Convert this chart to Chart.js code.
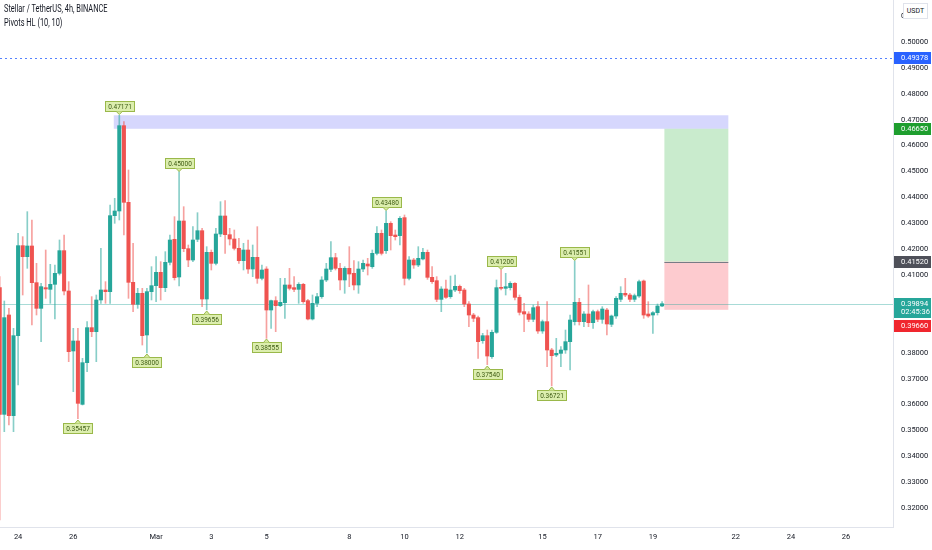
<!DOCTYPE html>
<html>
<head>
<meta charset="utf-8">
<script src="https://cdn.jsdelivr.net/npm/chart.js@4.4.0/dist/chart.umd.min.js"></script>
<style>
    html, body { margin: 0; padding: 0; background: #fff; }
    #wrap { position: relative; width: 932px; height: 550px; overflow: hidden; }
    canvas { display: block; }
    .legend { position: absolute; left: 4px; font-family: "Roboto", "Liberation Sans", sans-serif; font-size: 10px; color: #131722; white-space: nowrap; transform: scaleX(0.74); transform-origin: left top; }
    .unit { position: absolute; left: 903px; top: 3px; width: 23px; height: 14px; line-height: 14px; border: 1px solid #e0e3eb; background: #fff; text-align: center; font-family: "Roboto", sans-serif; font-size: 7px; color: #131722; }
</style>
</head>
<body>
<div id="wrap">
    <canvas id="chart" width="932" height="550"></canvas>
    <div class="legend" style="top:3px;">Stellar / TetherUS, 4h, BINANCE</div>
    <div class="legend" style="top:17px;">Pivots HL (10, 10)</div>
    <div class="unit">USDT</div>
</div>
<script>
// 4h candles, first one Feb 23 08:00 UTC
var candleStart = Date.UTC(2023, 1, 23, 8);
var candleStep = 4 * 3600 * 1000;

var opens = [
    0.40515, 0.35624, 0.39460, 0.35573, 0.38662, 0.42137, 0.41712, 0.42124, 0.40708, 0.39717,
    0.40515, 0.40451, 0.40644, 0.41069, 0.41944, 0.40386, 0.38070, 0.38456, 0.36010, 0.37619,
    0.38971, 0.38816, 0.40039, 0.40425, 0.40361, 0.43295, 0.43475, 0.46770, 0.43810, 0.40721,
    0.39872, 0.40296, 0.38688, 0.40361, 0.40592, 0.41107, 0.40515, 0.41493, 0.42381, 0.40927,
    0.43089, 0.42020, 0.41583, 0.42381, 0.42715, 0.40077, 0.41879, 0.41454, 0.42587, 0.43282,
    0.42561, 0.42394, 0.42033, 0.41557, 0.41969, 0.41235, 0.41686, 0.40875, 0.41235, 0.39652,
    0.40013, 0.39820, 0.39935, 0.40618, 0.40515, 0.40450, 0.40643, 0.40013, 0.39305, 0.39910,
    0.40167, 0.40811, 0.41222, 0.41673, 0.41261, 0.40811, 0.41261, 0.41068, 0.40618, 0.41235,
    0.41428, 0.41325, 0.41840, 0.42613, 0.41943, 0.42999, 0.42548, 0.42523, 0.43218, 0.40875,
    0.41583, 0.41390, 0.41622, 0.41879, 0.40914, 0.40785, 0.40064, 0.40463, 0.40167, 0.40425,
    0.40566, 0.40425, 0.39884, 0.39459, 0.39357, 0.38468, 0.38661, 0.37850, 0.38790, 0.40527,
    0.40489, 0.40515, 0.40682, 0.40141, 0.39588, 0.39498, 0.39292, 0.39781, 0.38841, 0.39202,
    0.38108, 0.37915, 0.37979, 0.38108, 0.38430, 0.39202, 0.39948, 0.39202, 0.39498, 0.39163,
    0.39588, 0.39292, 0.39652, 0.39099, 0.39421, 0.40064, 0.40296, 0.40231, 0.40064, 0.40193,
    0.40772, 0.39498, 0.39459, 0.39549, 0.39807
];
var highs = [
    0.40940, 0.40000, 0.39717, 0.38945, 0.42613, 0.42484, 0.43449, 0.43128, 0.41455, 0.40682,
    0.41969, 0.41416, 0.41390, 0.42356, 0.42549, 0.40747, 0.38945, 0.38945, 0.37787, 0.39202,
    0.40168, 0.40232, 0.42034, 0.40747, 0.43707, 0.43964, 0.47171, 0.46924, 0.45058, 0.42227,
    0.40489, 0.40489, 0.40489, 0.41326, 0.41712, 0.41519, 0.41905, 0.42548, 0.43256, 0.45000,
    0.43642, 0.42162, 0.42870, 0.43410, 0.42806, 0.42098, 0.41969, 0.42806, 0.43835, 0.43874,
    0.42806, 0.42741, 0.42420, 0.42226, 0.42355, 0.42162, 0.42870, 0.41390, 0.41325, 0.40039,
    0.40167, 0.40875, 0.40875, 0.41261, 0.40940, 0.40708, 0.40682, 0.40064, 0.40232, 0.40296,
    0.40939, 0.41454, 0.42291, 0.41840, 0.41454, 0.41325, 0.42098, 0.41558, 0.41519, 0.41583,
    0.41648, 0.41969, 0.42870, 0.42741, 0.43480, 0.43063, 0.42741, 0.43256, 0.43321, 0.41712,
    0.41648, 0.42098, 0.42033, 0.41969, 0.41325, 0.40940, 0.40553, 0.40811, 0.40965, 0.41004,
    0.40618, 0.40489, 0.39974, 0.39524, 0.39421, 0.38752, 0.38880, 0.38880, 0.40811, 0.41200,
    0.41068, 0.40746, 0.40708, 0.40231, 0.39910, 0.39588, 0.39845, 0.39974, 0.39266, 0.39974,
    0.38172, 0.38558, 0.38237, 0.38880, 0.39459, 0.41551, 0.40103, 0.39588, 0.40618, 0.39652,
    0.39652, 0.39781, 0.39717, 0.39459, 0.40167, 0.40553, 0.40875, 0.40296, 0.40270, 0.40811,
    0.40811, 0.39974, 0.39588, 0.39884, 0.39974
];
var lows = [
    0.31545, 0.34955, 0.35213, 0.34955, 0.36757, 0.40232, 0.41262, 0.39074, 0.39460, 0.38430,
    0.40103, 0.39910, 0.39305, 0.41004, 0.40232, 0.37658, 0.36500, 0.35457, 0.35984, 0.37272,
    0.38623, 0.37658, 0.39910, 0.39910, 0.39910, 0.42999, 0.43128, 0.42549, 0.40103, 0.39589,
    0.39717, 0.38301, 0.38000, 0.40039, 0.39974, 0.40039, 0.40361, 0.41390, 0.40811, 0.40579,
    0.41905, 0.41325, 0.41519, 0.42291, 0.39781, 0.39656, 0.41197, 0.41390, 0.42484, 0.41840,
    0.42162, 0.41969, 0.41454, 0.41197, 0.41068, 0.40940, 0.40682, 0.40811, 0.38555, 0.38945,
    0.38816, 0.39781, 0.39331, 0.40425, 0.40360, 0.39910, 0.39910, 0.39266, 0.39266, 0.39781,
    0.40103, 0.40746, 0.41132, 0.41197, 0.40425, 0.40296, 0.40554, 0.40425, 0.40296, 0.41133,
    0.41004, 0.41261, 0.41776, 0.41776, 0.41840, 0.41969, 0.42355, 0.42162, 0.40618, 0.40811,
    0.41261, 0.41325, 0.41583, 0.40836, 0.40682, 0.39974, 0.39588, 0.40103, 0.40103, 0.40360,
    0.40296, 0.39781, 0.39009, 0.39202, 0.37786, 0.38366, 0.37540, 0.37786, 0.38751, 0.40424,
    0.40231, 0.40424, 0.40038, 0.39459, 0.38816, 0.39202, 0.39202, 0.38751, 0.38751, 0.37464,
    0.36721, 0.37850, 0.37464, 0.37979, 0.37336, 0.39073, 0.39073, 0.39009, 0.39009, 0.38944,
    0.39202, 0.39137, 0.38687, 0.39009, 0.39331, 0.39974, 0.40167, 0.39974, 0.39974, 0.40141,
    0.39331, 0.39369, 0.38751, 0.39459, 0.39781
];
var closes = [
    0.35624, 0.39357, 0.35573, 0.38662, 0.42137, 0.41712, 0.42124, 0.40708, 0.39717, 0.40554,
    0.40464, 0.40644, 0.41069, 0.41944, 0.40386, 0.38044, 0.38456, 0.36049, 0.37619, 0.38971,
    0.38816, 0.40039, 0.40425, 0.40361, 0.43295, 0.43475, 0.46770, 0.43810, 0.40721, 0.39872,
    0.40296, 0.38662, 0.40361, 0.40592, 0.41107, 0.40515, 0.41493, 0.42355, 0.40901, 0.43089,
    0.42020, 0.41583, 0.42355, 0.42715, 0.40077, 0.41879, 0.41454, 0.42587, 0.43282, 0.42561,
    0.42394, 0.42033, 0.41557, 0.41969, 0.41235, 0.41686, 0.40875, 0.41197, 0.39652, 0.40013,
    0.39820, 0.39948, 0.40618, 0.40489, 0.40450, 0.40643, 0.39974, 0.39305, 0.39910, 0.40167,
    0.40811, 0.41235, 0.41673, 0.41261, 0.40811, 0.41261, 0.41042, 0.40618, 0.41235, 0.41454,
    0.41351, 0.41840, 0.42613, 0.41840, 0.42999, 0.42523, 0.42484, 0.43192, 0.40875, 0.41583,
    0.41390, 0.41648, 0.41879, 0.40914, 0.40746, 0.40064, 0.40463, 0.40142, 0.40425, 0.40566,
    0.40399, 0.39884, 0.39459, 0.39331, 0.38430, 0.38661, 0.37876, 0.38790, 0.40515, 0.40489,
    0.40553, 0.40682, 0.40141, 0.39562, 0.39498, 0.39292, 0.39742, 0.38841, 0.39202, 0.38108,
    0.37889, 0.37979, 0.38108, 0.38430, 0.39266, 0.39948, 0.39202, 0.39498, 0.39163, 0.39588,
    0.39292, 0.39691, 0.39112, 0.39421, 0.40103, 0.40296, 0.40231, 0.40064, 0.40206, 0.40746,
    0.39459, 0.39421, 0.39549, 0.39807, 0.39894
];

// Pivots HL (10, 10): bar indexes of the marked highs / lows
var pivotHighBars = [26, 39, 84, 109, 125];
var pivotLowBars = [17, 32, 45, 58, 106, 120];

// Drawings: rectangle and long position (entry / target / stop)
var rectTop = 0.47171, rectBottom = 0.46650;
var entryPrice = 0.41520, targetPrice = 0.46650, stopPrice = 0.39660;
var alertPrice = 0.49378;
var lastPrice = 0.39894, countdown = '02:45:36';

var yTicks = [0.32, 0.33, 0.34, 0.35, 0.36, 0.37, 0.38, 0.39, 0.40, 0.41,
              0.42, 0.43, 0.44, 0.45, 0.46, 0.47, 0.48, 0.49, 0.50, 0.51];
var dayTicks = ['2023-02-24', '2023-02-26', '2023-03-01', '2023-03-03', '2023-03-05', '2023-03-08', '2023-03-10',
                '2023-03-12', '2023-03-15', '2023-03-17', '2023-03-19', '2023-03-22', '2023-03-24', '2023-03-26'];
var monthNames = ['Jan', 'Feb', 'Mar', 'Apr', 'May', 'Jun', 'Jul', 'Aug', 'Sep', 'Oct', 'Nov', 'Dec'];

var UP = '#26a69a', DOWN = '#ef5350';
var FONT = '"Roboto", "Liberation Sans", sans-serif';
var axisFont = { family: FONT, size: 7.5 };

function barTime(i) {
    return candleStart + i * candleStep;
}

var wickData = [], bodyData = [], bodyColors = [], wickColors = [];
for (var i = 0; i < opens.length; i++) {
    var up = closes[i] >= opens[i];
    wickData.push({ x: barTime(i), y: [lows[i], highs[i]] });
    bodyData.push({ x: barTime(i), y: [opens[i], closes[i]] });
    bodyColors.push(up ? UP : DOWN);
    wickColors.push(up ? 'rgba(38,166,154,0.55)' : 'rgba(239,83,80,0.55)');
}

var overlays = {
    id: 'overlays',
    beforeDatasetsDraw: function(chart) {
        var ctx = chart.ctx, a = chart.chartArea, x = chart.scales.x, y = chart.scales.y;
        ctx.save();
        ctx.beginPath();
        ctx.rect(a.left, a.top, a.width, a.height);
        ctx.clip();

        function zone(b0, b1, p0, p1, color) {
            var x0 = x.getPixelForValue(barTime(b0)), x1 = x.getPixelForValue(barTime(b1));
            var y0 = y.getPixelForValue(p0), y1 = y.getPixelForValue(p1);
            ctx.fillStyle = color;
            ctx.fillRect(x0, y0, x1 - x0, y1 - y0);
        }
        // rectangle from the top pivot
        zone(24.8, 158.4, rectTop, rectBottom, 'rgba(120,123,250,0.3)');
        // long position
        zone(144.5, 158.4, targetPrice, entryPrice, 'rgba(76,190,90,0.3)');
        zone(144.5, 158.4, entryPrice, stopPrice, 'rgba(247,82,95,0.3)');
        var ye = Math.round(y.getPixelForValue(entryPrice)) + 0.5;
        ctx.strokeStyle = '#787b86';
        ctx.lineWidth = 1;
        ctx.beginPath();
        ctx.moveTo(x.getPixelForValue(barTime(144.5)), ye);
        ctx.lineTo(x.getPixelForValue(barTime(158.4)), ye);
        ctx.stroke();

        // alert line (dotted)
        var ya = Math.round(y.getPixelForValue(alertPrice)) + 0.5;
        ctx.strokeStyle = 'rgba(41,98,255,0.8)';
        ctx.setLineDash([2, 3]);
        ctx.beginPath();
        ctx.moveTo(a.left, ya);
        ctx.lineTo(a.right, ya);
        ctx.stroke();
        ctx.setLineDash([]);

        // last price line
        var yl = Math.round(y.getPixelForValue(lastPrice)) + 0.5;
        ctx.strokeStyle = 'rgba(38,166,154,0.4)';
        ctx.beginPath();
        ctx.moveTo(a.left, yl);
        ctx.lineTo(a.right, yl);
        ctx.stroke();
        ctx.restore();
    },
    afterDatasetsDraw: function(chart) {
        var ctx = chart.ctx, x = chart.scales.x, y = chart.scales.y;
        ctx.save();
        ctx.font = '6.5px ' + FONT;
        ctx.textAlign = 'center';
        ctx.textBaseline = 'middle';

        function pivotLabel(bar, price, isHigh) {
            var px = x.getPixelForValue(barTime(bar));
            var py = y.getPixelForValue(price);
            var text = price.toFixed(5);
            var w = Math.round(ctx.measureText(text).width + 5), h = 10;
            var top = Math.round(isHigh ? py - 4 - h : py + 4);
            var left = Math.round(px - w / 2);
            ctx.fillStyle = 'rgba(214,235,160,0.85)';
            ctx.strokeStyle = '#9ab84a';
            ctx.lineWidth = 1;
            ctx.fillRect(left, top, w, h);
            ctx.strokeRect(left + 0.5, top + 0.5, w, h);
            // arrow
            ctx.beginPath();
            if (isHigh) {
                ctx.moveTo(px - 3, top + h + 0.5);
                ctx.lineTo(px, top + h + 3.5);
                ctx.lineTo(px + 3, top + h + 0.5);
            } else {
                ctx.moveTo(px - 3, top + 0.5);
                ctx.lineTo(px, top - 3);
                ctx.lineTo(px + 3, top + 0.5);
            }
            ctx.fillStyle = '#d6eba0';
            ctx.fill();
            ctx.stroke();
            ctx.fillStyle = '#3d5a12';
            ctx.fillText(text, left + w / 2 + 0.5, top + h / 2 + 1);
        }
        pivotHighBars.forEach(function(b) { pivotLabel(b, highs[b], true); });
        pivotLowBars.forEach(function(b) { pivotLabel(b, lows[b], false); });
        ctx.restore();
    },
    afterDraw: function(chart) {
        var ctx = chart.ctx, a = chart.chartArea, y = chart.scales.y;
        var left = a.right + 1, w = chart.width - left - 1;
        ctx.save();
        ctx.font = '7.5px ' + FONT;
        ctx.textBaseline = 'middle';
        ctx.textAlign = 'left';

        function tag(top, lines, bg) {
            var h = lines.length * 8 + 4;
            top = Math.round(top);
            ctx.fillStyle = bg;
            ctx.fillRect(left, top, w, h);
            ctx.fillStyle = '#fff';
            lines.forEach(function(t, k) {
                ctx.fillText(t, left + 7, top + 6.5 + k * 8);
            });
            return top + h;
        }
        tag(y.getPixelForValue(alertPrice) - 6, [alertPrice.toFixed(5)], '#2962ff');
        tag(y.getPixelForValue(targetPrice) - 6, [targetPrice.toFixed(5)], '#1e9e2e');
        tag(y.getPixelForValue(entryPrice) - 6, [entryPrice.toFixed(5)], '#4e5059');
        var bottom = tag(y.getPixelForValue(lastPrice) - 6, [lastPrice.toFixed(5), countdown], '#26a69a');
        tag(Math.max(y.getPixelForValue(stopPrice) - 6, bottom + 2), [stopPrice.toFixed(5)], '#f0262e');
        ctx.restore();
    }
};

var chart = new Chart(document.getElementById('chart'), {
    type: 'bar',
    data: {
        datasets: [{
            label: 'wicks',
            data: wickData,
            backgroundColor: wickColors,
            barThickness: 1,
            grouped: false,
            order: 2
        }, {
            label: 'bodies',
            data: bodyData,
            backgroundColor: bodyColors,
            barThickness: 3.4,
            minBarLength: 1,
            grouped: false,
            order: 1
        }]
    },
    options: {
        responsive: false,
        animation: false,
        devicePixelRatio: 1,
        layout: { padding: 0 },
        plugins: {
            legend: { display: false },
            tooltip: { enabled: false }
        },
        scales: {
            x: {
                type: 'linear',
                offset: false,
                min: barTime(0.065),
                max: barTime(194.2),
                grid: { display: false, drawTicks: false, tickLength: 0 },
                border: { color: '#e0e3eb' },
                ticks: {
                    autoSkip: false,
                    maxRotation: 0,
                    padding: 6,
                    color: '#131722',
                    font: axisFont,
                    callback: function(v) {
                        var d = new Date(v);
                        return d.getUTCDate() === 1 ? monthNames[d.getUTCMonth()] : String(d.getUTCDate());
                    }
                },
                afterBuildTicks: function(scale) {
                    scale.ticks = dayTicks.map(function(s) { return { value: Date.parse(s + 'T00:00:00Z') }; });
                },
                afterFit: function(scale) {
                    scale.height = 23;
                    scale.paddingLeft = 0;
                    scale.paddingRight = 0;
                }
            },
            y: {
                position: 'right',
                min: 0.5 - 485 / 2590,
                max: 0.5 + 42 / 2590,
                grid: { display: false, drawTicks: false, tickLength: 0 },
                border: { color: '#e0e3eb' },
                ticks: {
                    padding: 8,
                    color: '#131722',
                    font: axisFont,
                    callback: function(v) { return v.toFixed(5); }
                },
                afterBuildTicks: function(scale) {
                    scale.ticks = yTicks.map(function(v) { return { value: v }; });
                },
                afterFit: function(scale) {
                    scale.width = 39;
                    scale.paddingTop = 0;
                    scale.paddingBottom = 0;
                }
            }
        }
    },
    plugins: [overlays]
});
</script>
</body>
</html>
